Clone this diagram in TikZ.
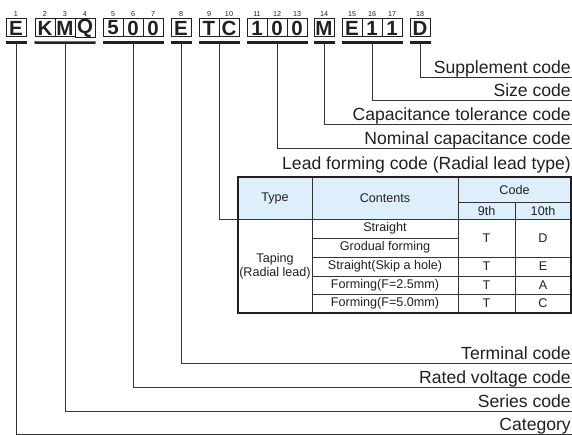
\documentclass[tikz,border=0pt]{standalone}
\usepackage{fontspec}
\setmainfont{Liberation Sans}
\definecolor{hdr}{HTML}{DCEFFA}
\definecolor{ink}{HTML}{231F20}
\definecolor{ln}{HTML}{333333}
\begin{document}
\begin{tikzpicture}[x=1pt,y=-1pt,
  cell/.style={draw=ink,line width=1pt,minimum width=20pt,minimum height=18pt,inner sep=0pt,
    font=\fontsize{20.5}{21}\selectfont\bfseries,text=ink},
  num/.style={inner sep=0pt,font=\fontsize{7.2}{8}\selectfont,text=ink},
  bar/.style={draw=ink,line width=2.5pt},
  conn/.style={draw=ln,line width=0.8pt},
  lab/.style={inner sep=0pt,anchor=base east,font=\fontsize{17.6}{20}\selectfont,text=ink},
  tt/.style={inner sep=0pt,font=\fontsize{12.6}{14}\selectfont,text=ink,align=center},
  tin/.style={draw=ln,line width=0.75pt},
  tout/.style={draw=ink,line width=1.1pt}]
\useasboundingbox (0,0) rectangle (572,435);
% code cells
\foreach \x/\l/\n in {16/E/1,45/K/2,65/M/3,85/Q/4,113/5/5,133/0/6,153/0/7,181/E/8,209/T/9,229/C/10,257/1/11,277/0/12,297/0/13,324/M/14,352/E/15,372/1/16,392/1/17,420/D/18}{
  \node[cell] (c\n) at (\x,28) {\l};
  \node[num] (n\n) at (\x,14) {\n};
}
% underline bars
\foreach \a/\b in {1/1,2/4,5/7,8/8,9/10,11/13,14/14,15/17,18/18}{
  \draw[bar] ([yshift=-5pt]c\a.south west) -- ([yshift=-5pt]c\b.south east);
}
% connector start points
\coordinate (s1) at ([yshift=-6pt]c1.south);
\coordinate (s2) at ([yshift=-6pt]c3.south);
\coordinate (s3) at ([yshift=-6pt]c6.south);
\coordinate (s4) at ([yshift=-6pt]c8.south);
\coordinate (s5) at ([yshift=-6pt]c9.south east);
\coordinate (s6) at ([yshift=-6pt]c12.south);
\coordinate (s7) at ([yshift=-6pt]c14.south);
\coordinate (s8) at ([yshift=-6pt]c16.south);
\coordinate (s9) at ([yshift=-6pt]c18.south);
% end points
\coordinate (e9) at (572,77);
\coordinate (e8) at (572,100);
\coordinate (e7) at (572,124.5);
\coordinate (e6) at (572,148);
\coordinate (e5) at (238,219);
\coordinate (e4) at (572,363);
\coordinate (e3) at (572,387);
\coordinate (e2) at (572,411);
\coordinate (e1) at (572,434);
\foreach \i in {1,...,9}{ \draw[conn] (s\i) |- (e\i); }
% labels
\node[lab] (l9) at (571,73.5) {Supplement code};
\node[lab] (l8) at (571,96.5) {Size code};
\node[lab] (l7) at (571,121) {Capacitance tolerance code};
\node[lab] (l6) at (571,144.5) {Nominal capacitance code};
\node[lab] (l5) at (571,169.5) {Lead forming code (Radial lead type)};
\node[lab] (l4) at (571,359.5) {Terminal code};
\node[lab] (l3) at (571,383.5) {Rated voltage code};
\node[lab] (l2) at (571,407.5) {Series code};
\node[lab] (l1) at (571,430.5) {Category};
% table
\fill[hdr] (238,177) rectangle (571,219);
\draw[tin] (458,202) -- (571,202);
\draw[tin] (238,219) -- (571,219);
\draw[tin] (312,177) -- (312,313);
\draw[tin] (458,177) -- (458,313);
\draw[tin] (515,202) -- (515,313);
\draw[tin] (312,238) -- (458,238);
\draw[tin] (312,257) -- (571,257);
\draw[tin] (312,276) -- (571,276);
\draw[tin] (312,294) -- (571,294);
\draw[tout] (238,177) rectangle (571,313);
\node[tt] (hType) at (275,198) {Type};
\node[tt] (hCont) at (385,198) {Contents};
\node[tt] (hCode) at (514.5,189.5) {Code};
\node[tt] (h9) at (486.5,210.5) {9th};
\node[tt] (h10) at (543,210.5) {10th};
\node[tt] (tap) at (275,266) {Taping\\(Radial lead)};
\node[tt] (r1) at (385,228.5) {Straight};
\node[tt] (r2) at (385,247.5) {Grodual forming};
\node[tt] (r3) at (385,266.5) {Straight(Skip a hole)};
\node[tt] (r4) at (385,285) {Forming(F=2.5mm)};
\node[tt] (r5) at (385,303.5) {Forming(F=5.0mm)};
\node[tt] (a1) at (486.5,238) {T};
\node[tt] (b1) at (543,238) {D};
\node[tt] (a3) at (486.5,266.5) {T};
\node[tt] (b3) at (543,266.5) {E};
\node[tt] (a4) at (486.5,285) {T};
\node[tt] (b4) at (543,285) {A};
\node[tt] (a5) at (486.5,303.5) {T};
\node[tt] (b5) at (543,303.5) {C};
\end{tikzpicture}
\end{document}
